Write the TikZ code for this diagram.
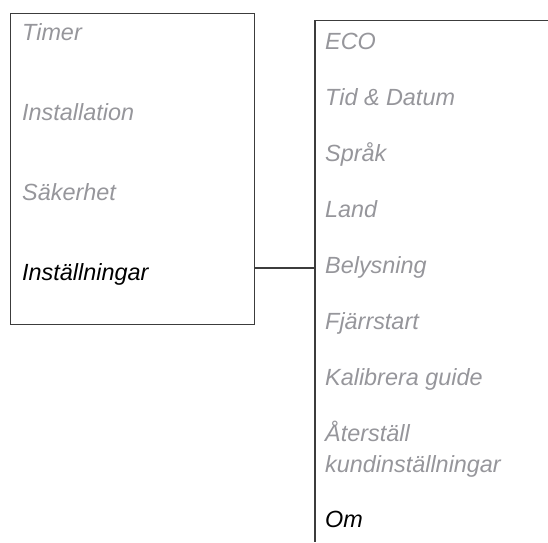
\documentclass[tikz,border=0pt]{standalone}
\usepackage{fontspec}
\setmainfont{Liberation Sans}
\definecolor{itemgray}{RGB}{150,150,155}
\definecolor{linegray}{RGB}{60,60,60}
\tikzset{
  item/.style={anchor=base west, inner sep=0pt, font=\itshape\fontsize{23.4}{23.4}\selectfont, text=itemgray},
  itemactive/.style={item, text=black},
  frame/.style={draw=linegray, line width=1.1pt},
}
\begin{document}
\begin{tikzpicture}[x=1pt,y=-1pt]
\useasboundingbox (0,0) rectangle (548,542);
% left menu box
\node[frame, anchor=north west, minimum width=244pt, minimum height=311pt, inner sep=0pt] (lbox) at (10,13.3) {};
\node[item] (timer) at (22,40) {Timer};
\node[item] (install) at (22,120) {Installation};
\node[item] (saker) at (22,200) {Säkerhet};
\node[itemactive] (instl) at (22,280) {Inställningar};
% right menu box (cut off at right and bottom)
\coordinate (rtr) at (548,20.5);
\coordinate (rtl) at (315,20.5);
\coordinate (rbl) at (315,542);
\draw[frame] (rtr) -- (rtl) -- (rbl);
\node[item] (eco) at (325,49) {ECO};
\node[item] (tid) at (325,105) {Tid \& Datum};
\node[item] (sprak) at (325,161) {Språk};
\node[item] (land) at (325,217) {Land};
\node[item] (bely) at (325,273) {Belysning};
\node[item] (fjarr) at (325,329) {Fjärrstart};
\node[item] (kalib) at (325,385) {Kalibrera guide};
\node[item] (ater) at (325,441) {Återställ};
\node[item] (kund) at (325,472) {kundinställningar};
\node[itemactive] (om) at (325,527) {Om};
% connector
\coordinate (cy) at (0,268);
\draw[frame] (lbox.east |- cy) -- (rtl |- cy);
\end{tikzpicture}
\end{document}
